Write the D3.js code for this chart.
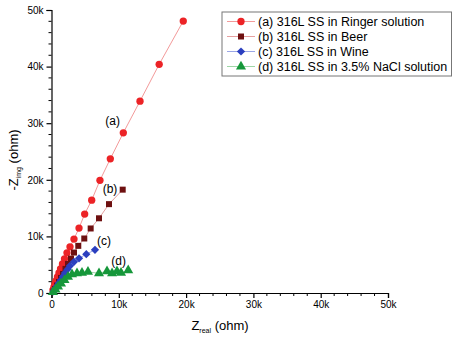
<!DOCTYPE html>
<html><head><meta charset="utf-8">
<script src="https://cdn.jsdelivr.net/npm/d3@7"></script>
<style>body{margin:0;background:#fff}svg{display:block;font-family:"Liberation Sans",Arial,sans-serif}</style>
</head><body>
<svg id="c" width="457" height="338"></svg>
<script>
// values in ohm (Z_real, -Z_img)
const seriesNames = ["(a) 316L SS in Ringer solution","(b) 316L SS in Beer","(c) 316L SS in Wine","(d) 316L SS in 3.5% NaCl solution"];
const shortLabels = ["(a)","(b)","(c)","(d)"];
const ringerX = [220,370,520,670,890,1110,1340,1630,1930,2300,2750,3340,4090,4930,5970,7200,8740,10670,13150,16000,19580];
const ringerY = [530,1060,1600,2130,2840,3550,4260,5140,6030,7090,8160,9520,11470,13950,16400,19900,23700,28300,33900,40400,48050];
const beerX = [300,520,820,1110,1410,1710,2080,2450,2900,3340,3980,4870,5820,7060,8540,10580];
const beerY = [270,710,1330,1950,2660,3370,4260,5140,6080,7150,8330,9630,11400,13200,15700,18260];
const wineX = [300,520,820,1110,1410,1710,2000,2380,2750,3340,4090,5170,6460];
const wineY = [270,710,1240,1770,2300,2930,3550,4170,4800,5500,6120,6860,7620];
const naclX = [220,590,970,1410,1930,2450,3050,3790,4530,5420,7060,8250,9000,9730,10330,11400];
const naclY = [180,620,1150,1680,2300,2840,3280,3460,3550,3720,3490,3810,3460,3810,3550,3990];
const xTicks = [0,10000,20000,30000,40000,50000];
const yTicks = [0,10000,20000,30000,40000,50000];
const tickLabels = ["0","10k","20k","30k","40k","50k"];

const markerColors = ["#ec2326","#6e1010","#2b3fbf","#16973a"];
const lineColors = ["#f39a9a","#e6a0a0","#9aa6e6","#9ed6a6"];
const symbols = [d3.symbolCircle, d3.symbolSquare, d3.symbolSquare, d3.symbolTriangle];
const symRot = [0,0,45,0];
const symSizes = [42, 36, 34, 44];

const svg = d3.select("#c");
const x = d3.scaleLinear().domain([0,50000]).range([51.5,388]);
const y = d3.scaleLinear().domain([0,50000]).range([293,10]);

const series = [
  {x:ringerX,y:ringerY},{x:beerX,y:beerY},{x:wineX,y:wineY},{x:naclX,y:naclY}
];

// axes
const fmt = d => tickLabels[xTicks.indexOf(d)];
const xAxis = d3.axisBottom(x).tickValues(xTicks).tickFormat(fmt).tickSize(5).tickPadding(3);
const yAxis = d3.axisLeft(y).tickValues(yTicks).tickFormat(d => tickLabels[yTicks.indexOf(d)]).tickSize(5).tickPadding(3);
const minor = d3.range(0,50001,2000).filter(v => v % 10000 !== 0);

const gx = svg.append("g").attr("transform","translate(0,293)").call(xAxis);
const gy = svg.append("g").attr("transform","translate(51.5,0)").call(yAxis);
gx.append("g").selectAll("line").data(minor).join("line")
  .attr("x1",d=>x(d)).attr("x2",d=>x(d)).attr("y1",0).attr("y2",3).attr("stroke","#000");
gy.append("g").selectAll("line").data(minor).join("line")
  .attr("y1",d=>y(d)).attr("y2",d=>y(d)).attr("x1",0).attr("x2",-3).attr("stroke","#000");
[gx,gy].forEach(g=>{
  g.selectAll("path.domain").attr("stroke","#000").attr("stroke-width",1.2);
  g.selectAll(".tick line").attr("stroke","#000").attr("stroke-width",1.2);
  g.selectAll("text").attr("font-size",10).attr("fill","#000").attr("font-family","Liberation Sans, Arial, sans-serif");
});

// axis titles
const xt = svg.append("text").attr("x",220).attr("y",330).attr("text-anchor","middle")
  .attr("font-size",13).attr("fill","#000");
xt.append("tspan").text("Z");
xt.append("tspan").attr("font-size",7).attr("dy",3).text("real");
xt.append("tspan").attr("dy",-3).text(" (ohm)");

const yt = svg.append("text").attr("transform","translate(18,160) rotate(-90)").attr("text-anchor","middle")
  .attr("font-size",13).attr("fill","#000");
yt.append("tspan").text("-Z");
yt.append("tspan").attr("font-size",7).attr("dy",3).text("img");
yt.append("tspan").attr("dy",-3).text(" (ohm)");

// series
const line = d3.line().x(d=>x(d[0])).y(d=>y(d[1]));
series.forEach((s,i)=>{
  const pts = s.x.map((v,j)=>[v,s.y[j]]);
  svg.append("path").datum(pts).attr("d",line).attr("fill","none")
    .attr("stroke",lineColors[i]).attr("stroke-width",1);
  svg.append("g").selectAll("path").data(pts).join("path")
    .attr("transform",d=>`translate(${x(d[0])},${y(d[1])}) rotate(${symRot[i]})`)
    .attr("d",d3.symbol().type(symbols[i]).size(symSizes[i]))
    .attr("fill",markerColors[i]);
});

// annotations near series ends
const annotPos = [[ringerX[17],ringerY[17],-18,-8],[beerX[15],beerY[15],-20,3],[wineX[12],wineY[12],2,-5],[naclX[15],naclY[15],-17,-5]];
annotPos.forEach((p,i)=>{
  svg.append("text").attr("x",x(p[0])+p[2]).attr("y",y(p[1])+p[3])
    .attr("font-size",12).attr("fill","#000").text(shortLabels[i]);
});

// legend
const lg = svg.append("g");
lg.append("rect").attr("x",222).attr("y",12).attr("width",229.5).attr("height",64)
  .attr("fill","#fff").attr("stroke","#777").attr("stroke-width",1);
seriesNames.forEach((n,i)=>{
  const yy = 21.5 + i*15;
  lg.append("line").attr("x1",227).attr("x2",255).attr("y1",yy).attr("y2",yy)
    .attr("stroke",lineColors[i]).attr("stroke-width",1);
  lg.append("path").attr("transform",`translate(241,${yy}) rotate(${symRot[i]})`)
    .attr("d",d3.symbol().type(symbols[i]).size(symSizes[i])).attr("fill",markerColors[i]);
  lg.append("text").attr("x",258).attr("y",yy+4.5).attr("font-size",12.5).attr("fill","#000").text(n);
});
</script>
</body></html>
